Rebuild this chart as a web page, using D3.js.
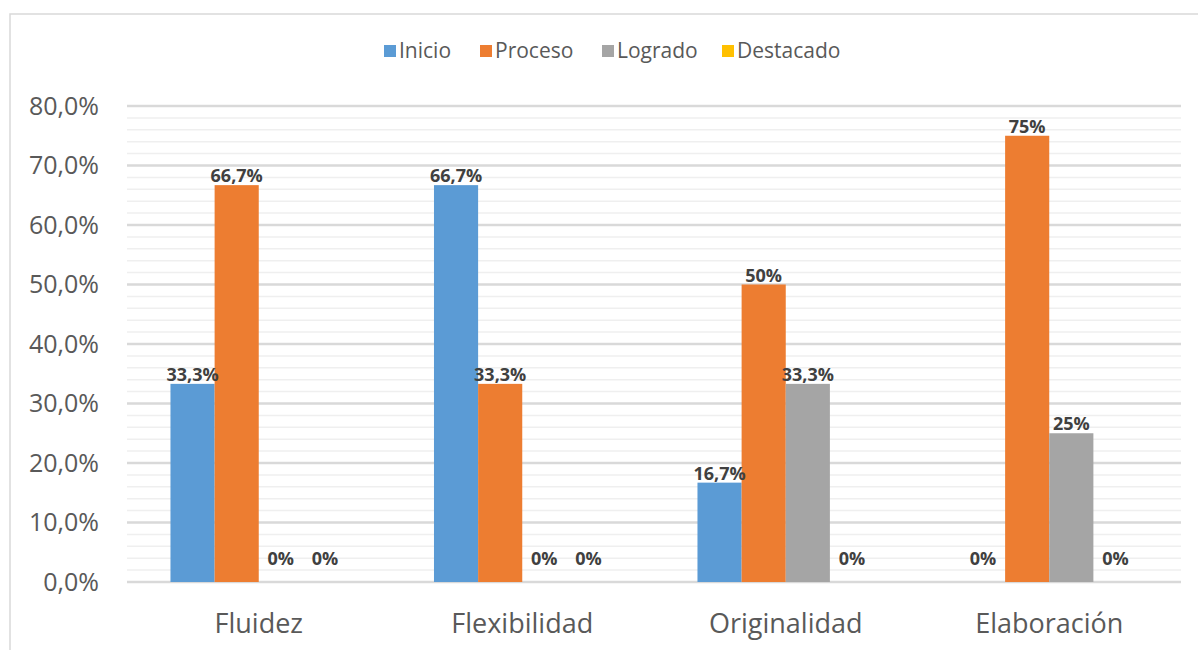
<html>
<head>
<meta charset="utf-8">
<script src="https://d3js.org/d3.v7.min.js"></script>
<style>
body { margin: 0; background: #fff; }
svg { display: block; }
text { font-family: "Open Sans", "Noto Sans", sans-serif; }
.tick-y { font-size: 25px; fill: #595959; }
.tick-x { font-size: 27px; fill: #595959; }
.legend text { font-size: 21px; fill: #595959; }
.lbl { font-size: 18px; font-weight: bold; fill: #404040; }
</style>
</head>
<body>
<svg width="1198" height="650"></svg>
<script>

// data
var categories = ["Fluidez", "Flexibilidad", "Originalidad", "Elaboración"];
var seriesNames = ["Inicio", "Proceso", "Logrado", "Destacado"];
var inicio    = [33.3, 66.7, 16.7, 0];
var proceso   = [66.7, 33.3, 50, 75];
var logrado   = [0, 0, 33.3, 25];
var destacado = [0, 0, 0, 0];
var labelText = [
  ["33,3%", "66,7%", "0%", "0%"],
  ["66,7%", "33,3%", "0%", "0%"],
  ["16,7%", "50%", "33,3%", "0%"],
  ["0%", "75%", "25%", "0%"]
];
var yTicks = [0, 10, 20, 30, 40, 50, 60, 70, 80];
var colors = ["#5b9bd5", "#ed7d31", "#a5a5a5", "#ffc000"];

var values = [inicio, proceso, logrado, destacado];

var svg = d3.select("svg");

// chart border
svg.append("rect")
    .attr("x", 10).attr("y", 14)
    .attr("width", 1200).attr("height", 700)
    .attr("fill", "none").attr("stroke", "#d9d9d9").attr("stroke-width", 1.5);

var plotLeft = 127, plotRight = 1181, plotTop = 106, plotBottom = 582;

var y = d3.scaleLinear().domain([0, 80]).range([plotBottom, plotTop]);

var x0 = d3.scaleBand()
    .domain(categories)
    .range([plotLeft, plotRight])
    .paddingInner(0.33)
    .paddingOuter(0.165);

var x1 = d3.scaleBand()
    .domain(seriesNames)
    .range([0, x0.bandwidth()]);

// minor gridlines every 2%
var minor = d3.range(0, 81, 2).filter(d => d % 10 !== 0);
svg.append("g").selectAll("line")
    .data(minor)
    .enter().append("line")
    .attr("x1", plotLeft).attr("x2", plotRight)
    .attr("y1", d => y(d)).attr("y2", d => y(d))
    .attr("stroke", "#efefef").attr("stroke-width", 1.5);

svg.append("g").selectAll("line")
    .data(yTicks)
    .enter().append("line")
    .attr("x1", plotLeft).attr("x2", plotRight)
    .attr("y1", d => y(d)).attr("y2", d => y(d))
    .attr("stroke", "#d9d9d9").attr("stroke-width", 2.5);

// y axis labels
svg.append("g").selectAll("text")
    .data(yTicks)
    .enter().append("text")
    .attr("class", "tick-y")
    .attr("x", 99)
    .attr("y", d => y(d))
    .attr("dy", "0.35em")
    .attr("text-anchor", "end")
    .text(d => d.toFixed(1).replace(".", ",") + "%");

// bars
var groups = svg.selectAll(".layer")
    .data(categories)
    .enter().append("g")
    .attr("class", "layer")
    .attr("transform", d => "translate(" + x0(d) + ",0)");

groups.selectAll("rect")
    .data((c, i) => seriesNames.map((s, j) => ({key: s, value: values[j][i], idx: j})))
    .enter().append("rect")
    .attr("x", d => x1(d.key))
    .attr("width", x1.bandwidth())
    .attr("y", d => y(d.value))
    .attr("height", d => plotBottom - y(d.value))
    .attr("fill", d => colors[d.idx]);

groups.selectAll(".lbl")
    .data((c, i) => seriesNames.map((s, j) => ({key: s, value: values[j][i], label: labelText[i][j]})))
    .enter().append("text")
    .attr("class", "lbl")
    .attr("x", d => x1(d.key) + x1.bandwidth() / 2)
    .attr("y", d => d.value === 0 ? y(0) - 17 : y(d.value) - 3)
    .attr("text-anchor", "middle")
    .text(d => d.label);

// x axis labels
svg.append("g").selectAll("text")
    .data(categories)
    .enter().append("text")
    .attr("class", "tick-x")
    .attr("x", d => x0(d) + x0.bandwidth() / 2)
    .attr("y", 633)
    .attr("text-anchor", "middle")
    .text(d => d);

// legend
var legendX = [384, 480, 602, 722];
var legend = svg.append("g").attr("class", "legend")
    .selectAll("g")
    .data(seriesNames)
    .enter().append("g")
    .attr("transform", (d, i) => "translate(" + legendX[i] + ",45)");

legend.append("rect")
    .attr("width", 12).attr("height", 12)
    .attr("fill", (d, i) => colors[i]);

legend.append("text")
    .attr("x", 15).attr("y", 6)
    .attr("dy", "0.35em")
    .text(d => d);

</script>
</body>
</html>
